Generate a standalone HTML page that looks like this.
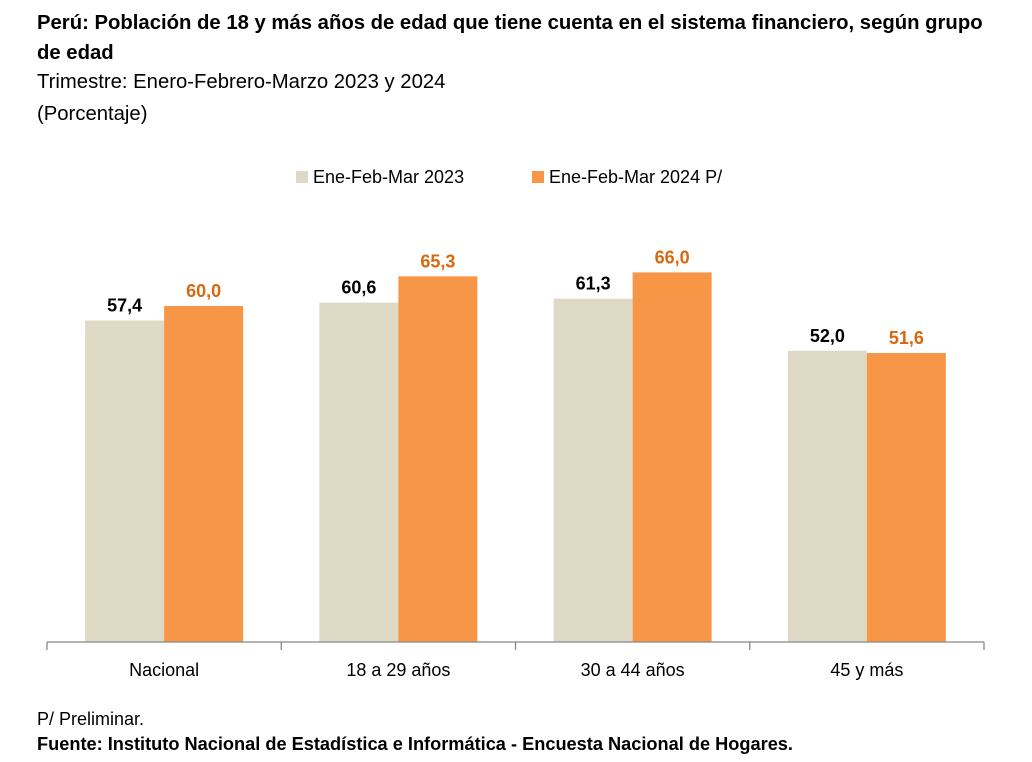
<!DOCTYPE html>
<html><head><meta charset="utf-8">
<style>
body{margin:0;width:1032px;height:762px;background:#fff;font-family:"Liberation Sans",Arial,sans-serif;overflow:hidden;position:relative}
.t{position:absolute;left:37px;color:#000}
</style></head><body>
<div class="t" style="top:8px;font-size:20.3px;font-weight:bold;line-height:30px;width:955px">Perú: Población de 18 y más años de edad que tiene cuenta en el sistema financiero, según grupo de edad</div>
<div class="t" style="top:71px;font-size:20.3px">Trimestre: Enero-Febrero-Marzo 2023 y 2024</div>
<div class="t" style="top:103px;font-size:20.3px">(Porcentaje)</div>
<svg id="c" width="1032" height="762" style="position:absolute;left:0;top:0"></svg>
<div class="t" style="top:709px;font-size:18px">P/ Preliminar.</div>
<div class="t" style="top:734px;font-size:18.2px;font-weight:bold">Fuente: Instituto Nacional de Estadística e Informática - Encuesta Nacional de Hogares.</div>
<script>
const categories=["Nacional","18 a 29 años","30 a 44 años","45 y más"];
const series2023=[57.4,60.6,61.3,52.0];
const series2024=[60.0,65.3,66.0,51.6];
const seriesNames=["Ene-Feb-Mar 2023","Ene-Feb-Mar 2024 P/"];
const NS="http://www.w3.org/2000/svg";
const svg=document.getElementById('c');
const x0=47,x1=984,base=642,scale=5.6,bw=79;
const cw=(x1-x0)/categories.length;
const y=v=>base-v*scale;
function el(t,a,txt){const e=document.createElementNS(NS,t);for(const k in a)e.setAttribute(k,a[k]);if(txt!=null)e.textContent=txt;svg.appendChild(e);return e;}
const cols=["#ddd9c4","#f79646"],lcols=["#000","#d9670e"];
[series2023,series2024].forEach((s,si)=>{
 s.forEach((v,i)=>{
  const cx=x0+cw*i+cw/2;
  const bx=cx-bw+si*bw;
  const r=el('rect',{x:bx,y:y(v),width:bw,height:v*scale,fill:cols[si]});
  
  
  const t=el('text',{x:bx+bw/2,y:y(v)-9,'text-anchor':'middle','font-size':18,'font-weight':'bold',fill:lcols[si],'font-family':'Liberation Sans'},v.toFixed(1).replace('.',','));
  
  
 });
});
const ax=el('line',{x1:x0,x2:x1,y1:base,y2:base,stroke:'#888','stroke-width':1.3});


for(let i=0;i<=categories.length;i++){
 const tk=el('line',{x1:x0+cw*i,x2:x0+cw*i,y1:base,y2:base+8,stroke:'#888','stroke-width':1.3});
 
 
}
categories.forEach((c,i)=>{
 const t=el('text',{x:x0+cw*i+cw/2,y:676,'text-anchor':'middle','font-size':18,fill:'#000','font-family':'Liberation Sans'},c);
 
 
});
const lx=[296,532];
seriesNames.forEach((n,i)=>{
 const r=el('rect',{x:lx[i],y:171,width:12,height:12,fill:cols[i]});
 
 
 const t=el('text',{x:lx[i]+17,y:183,'font-size':18,fill:'#000','font-family':'Liberation Sans'},n);
 
 
});
</script>
</body></html>
